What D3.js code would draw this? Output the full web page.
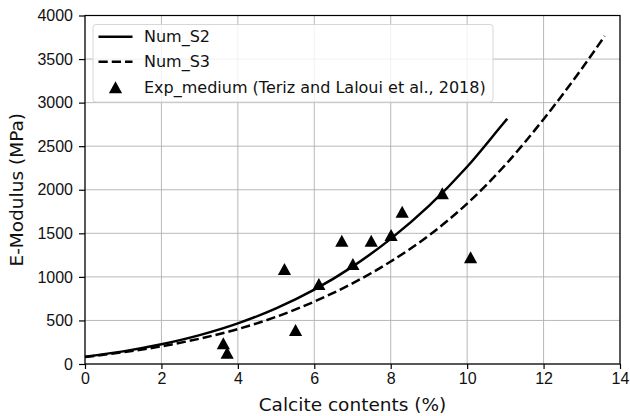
<!DOCTYPE html>
<html>
<head>
<meta charset="utf-8">
<script src="https://cdn.jsdelivr.net/npm/d3@7"></script>
<style>
  body { margin: 0; background: #fff; }
  svg { font-family: "DejaVu Sans", sans-serif; }
  .grid line { stroke: #b0b0b0; stroke-width: 0.9; }
  .axis path, .axis line { stroke: #000; stroke-width: 1.2; }
  .axis text { font-size: 16px; fill: #111; }
</style>
</head>
<body>
<div class="container"></div>
<script>
const WIDTH = 630;
const HEIGHT = 416;
const MARGIN = {top: 15.5, right: 10, bottom: 52, left: 85};

// Num_S2 (solid) read at integer calcite contents, last point at the end of the line
var s2X = [0, 1, 2, 3, 4, 5, 6, 7, 8, 9, 10, 11, 11.05];
var s2Y = [84, 145, 226, 331, 466, 638, 853, 1118, 1436, 1814, 2264, 2789, 2815];

// Num_S3 (dashed)
var s3X = [0, 1, 2, 3, 4, 5, 6, 7, 8, 9, 10, 11, 12, 13, 13.6];
var s3Y = [80, 135, 203, 291, 401, 541, 716, 926, 1176, 1476, 1841, 2286, 2810, 3390, 3765];

// Exp_medium points
var expX = [3.62, 3.72, 5.22, 5.51, 6.12, 6.72, 7.01, 7.49, 8.01, 8.30, 9.35, 10.09];
var expY = [238, 130, 1090, 390, 918, 1415, 1148, 1415, 1481, 1748, 1959, 1225];

var xTicks = [0, 2, 4, 6, 8, 10, 12, 14];
var yTicks = [0, 500, 1000, 1500, 2000, 2500, 3000, 3500, 4000];

var legendLabels = ["Num_S2", "Num_S3", "Exp_medium (Teriz and Laloui et al., 2018)"];

var translate = function(x, y) {
    return `translate(${x},${y})`;
};

// triangle centred on its bounding box, like matplotlib '^'
var triangle = {
    draw: function(ctx, size) {
        var r = Math.sqrt(size) / 2;
        ctx.moveTo(0, -r);
        ctx.lineTo(r * 1.1, r);
        ctx.lineTo(-r * 1.1, r);
        ctx.closePath();
    }
};

var zip = (xs, ys) => xs.map((x, i) => [x, ys[i]]);

var draw = function() {
    var svg = d3.select('.container').append('svg')
        .attr('width', WIDTH)
        .attr('height', HEIGHT);

    var w = WIDTH - MARGIN.left - MARGIN.right;
    var h = HEIGHT - MARGIN.top - MARGIN.bottom;

    let xScale = d3.scaleLinear().domain([0, 14]).range([0, w]);
    let yScale = d3.scaleLinear().domain([0, 4000]).range([h, 0]);

    var g = svg.append('g').attr('transform', translate(MARGIN.left, MARGIN.top));

    // grid
    g.append('g').classed('grid', true)
        .selectAll('line').data(xTicks).enter().append('line')
        .attr('x1', d => xScale(d)).attr('x2', d => xScale(d))
        .attr('y1', 0).attr('y2', h);
    g.append('g').classed('grid', true)
        .selectAll('line').data(yTicks).enter().append('line')
        .attr('y1', d => yScale(d)).attr('y2', d => yScale(d))
        .attr('x1', 0).attr('x2', w);

    var line = d3.line()
        .x(d => xScale(d[0]))
        .y(d => yScale(d[1]))
        .curve(d3.curveMonotoneX);

    g.append('path')
        .attr('d', line(zip(s2X, s2Y)))
        .attr('fill', 'none').attr('stroke', '#000').attr('stroke-width', 2.5);

    g.append('path')
        .attr('d', line(zip(s3X, s3Y)))
        .attr('fill', 'none').attr('stroke', '#000').attr('stroke-width', 2.5)
        .attr('stroke-dasharray', '9.25,4');

    var sym = d3.symbol().type(triangle).size(144);
    g.selectAll('.pt').data(zip(expX, expY)).enter()
        .append('path')
        .classed('pt', true)
        .attr('d', sym)
        .attr('transform', d => translate(xScale(d[0]), yScale(d[1])))
        .attr('fill', '#000');

    // frame
    g.append('rect')
        .attr('width', w).attr('height', h)
        .attr('fill', 'none').attr('stroke', '#000').attr('stroke-width', 1.2);

    let xAxis = d3.axisBottom(xScale).tickValues(xTicks).tickSize(5).tickPadding(4);
    let yAxis = d3.axisLeft(yScale).tickValues(yTicks).tickFormat(d3.format('d'))
        .tickSize(6).tickPadding(6);

    g.append('g').classed('axis', true)
        .attr('transform', translate(0, h))
        .call(xAxis)
        .call(a => a.select('.domain').remove());
    g.append('g').classed('axis', true)
        .call(yAxis)
        .call(a => a.select('.domain').remove());

    svg.append('text')
        .attr('x', MARGIN.left + xScale(7))
        .attr('y', 411)
        .attr('text-anchor', 'middle')
        .style('font-size', '18.5px').style('fill', '#111')
        .text('Calcite contents (%)');

    svg.append('text')
        .attr('transform', translate(23, MARGIN.top + yScale(2000)) + ' rotate(-90)')
        .attr('text-anchor', 'middle')
        .style('font-size', '18.5px').style('fill', '#111')
        .text('E-Modulus (MPa)');

    // legend
    var lg = svg.append('g').attr('transform', translate(93, 24.5));
    lg.append('rect')
        .attr('width', 400).attr('height', 77.5).attr('rx', 3)
        .attr('fill', 'rgba(255,255,255,0.8)').attr('stroke', '#d6d6d6');
    var rows = [12.3, 37.3, 62.8];
    lg.append('line').attr('x1', 5.5).attr('x2', 39.5).attr('y1', rows[0]).attr('y2', rows[0])
        .attr('stroke', '#000').attr('stroke-width', 2.5);
    lg.append('line').attr('x1', 5.5).attr('x2', 39.5).attr('y1', rows[1]).attr('y2', rows[1])
        .attr('stroke', '#000').attr('stroke-width', 2.5).attr('stroke-dasharray', '9.25,4');
    lg.append('path').attr('d', sym).attr('transform', translate(22.5, rows[2])).attr('fill', '#000');
    lg.selectAll('.lt').data(legendLabels).enter().append('text')
        .attr('x', 51).attr('y', (d, i) => rows[i])
        .attr('dy', '0.35em')
        .style('font-size', '16px').style('fill', '#111')
        .text(d => d);
};

window.onload = draw;
</script>
</body>
</html>
